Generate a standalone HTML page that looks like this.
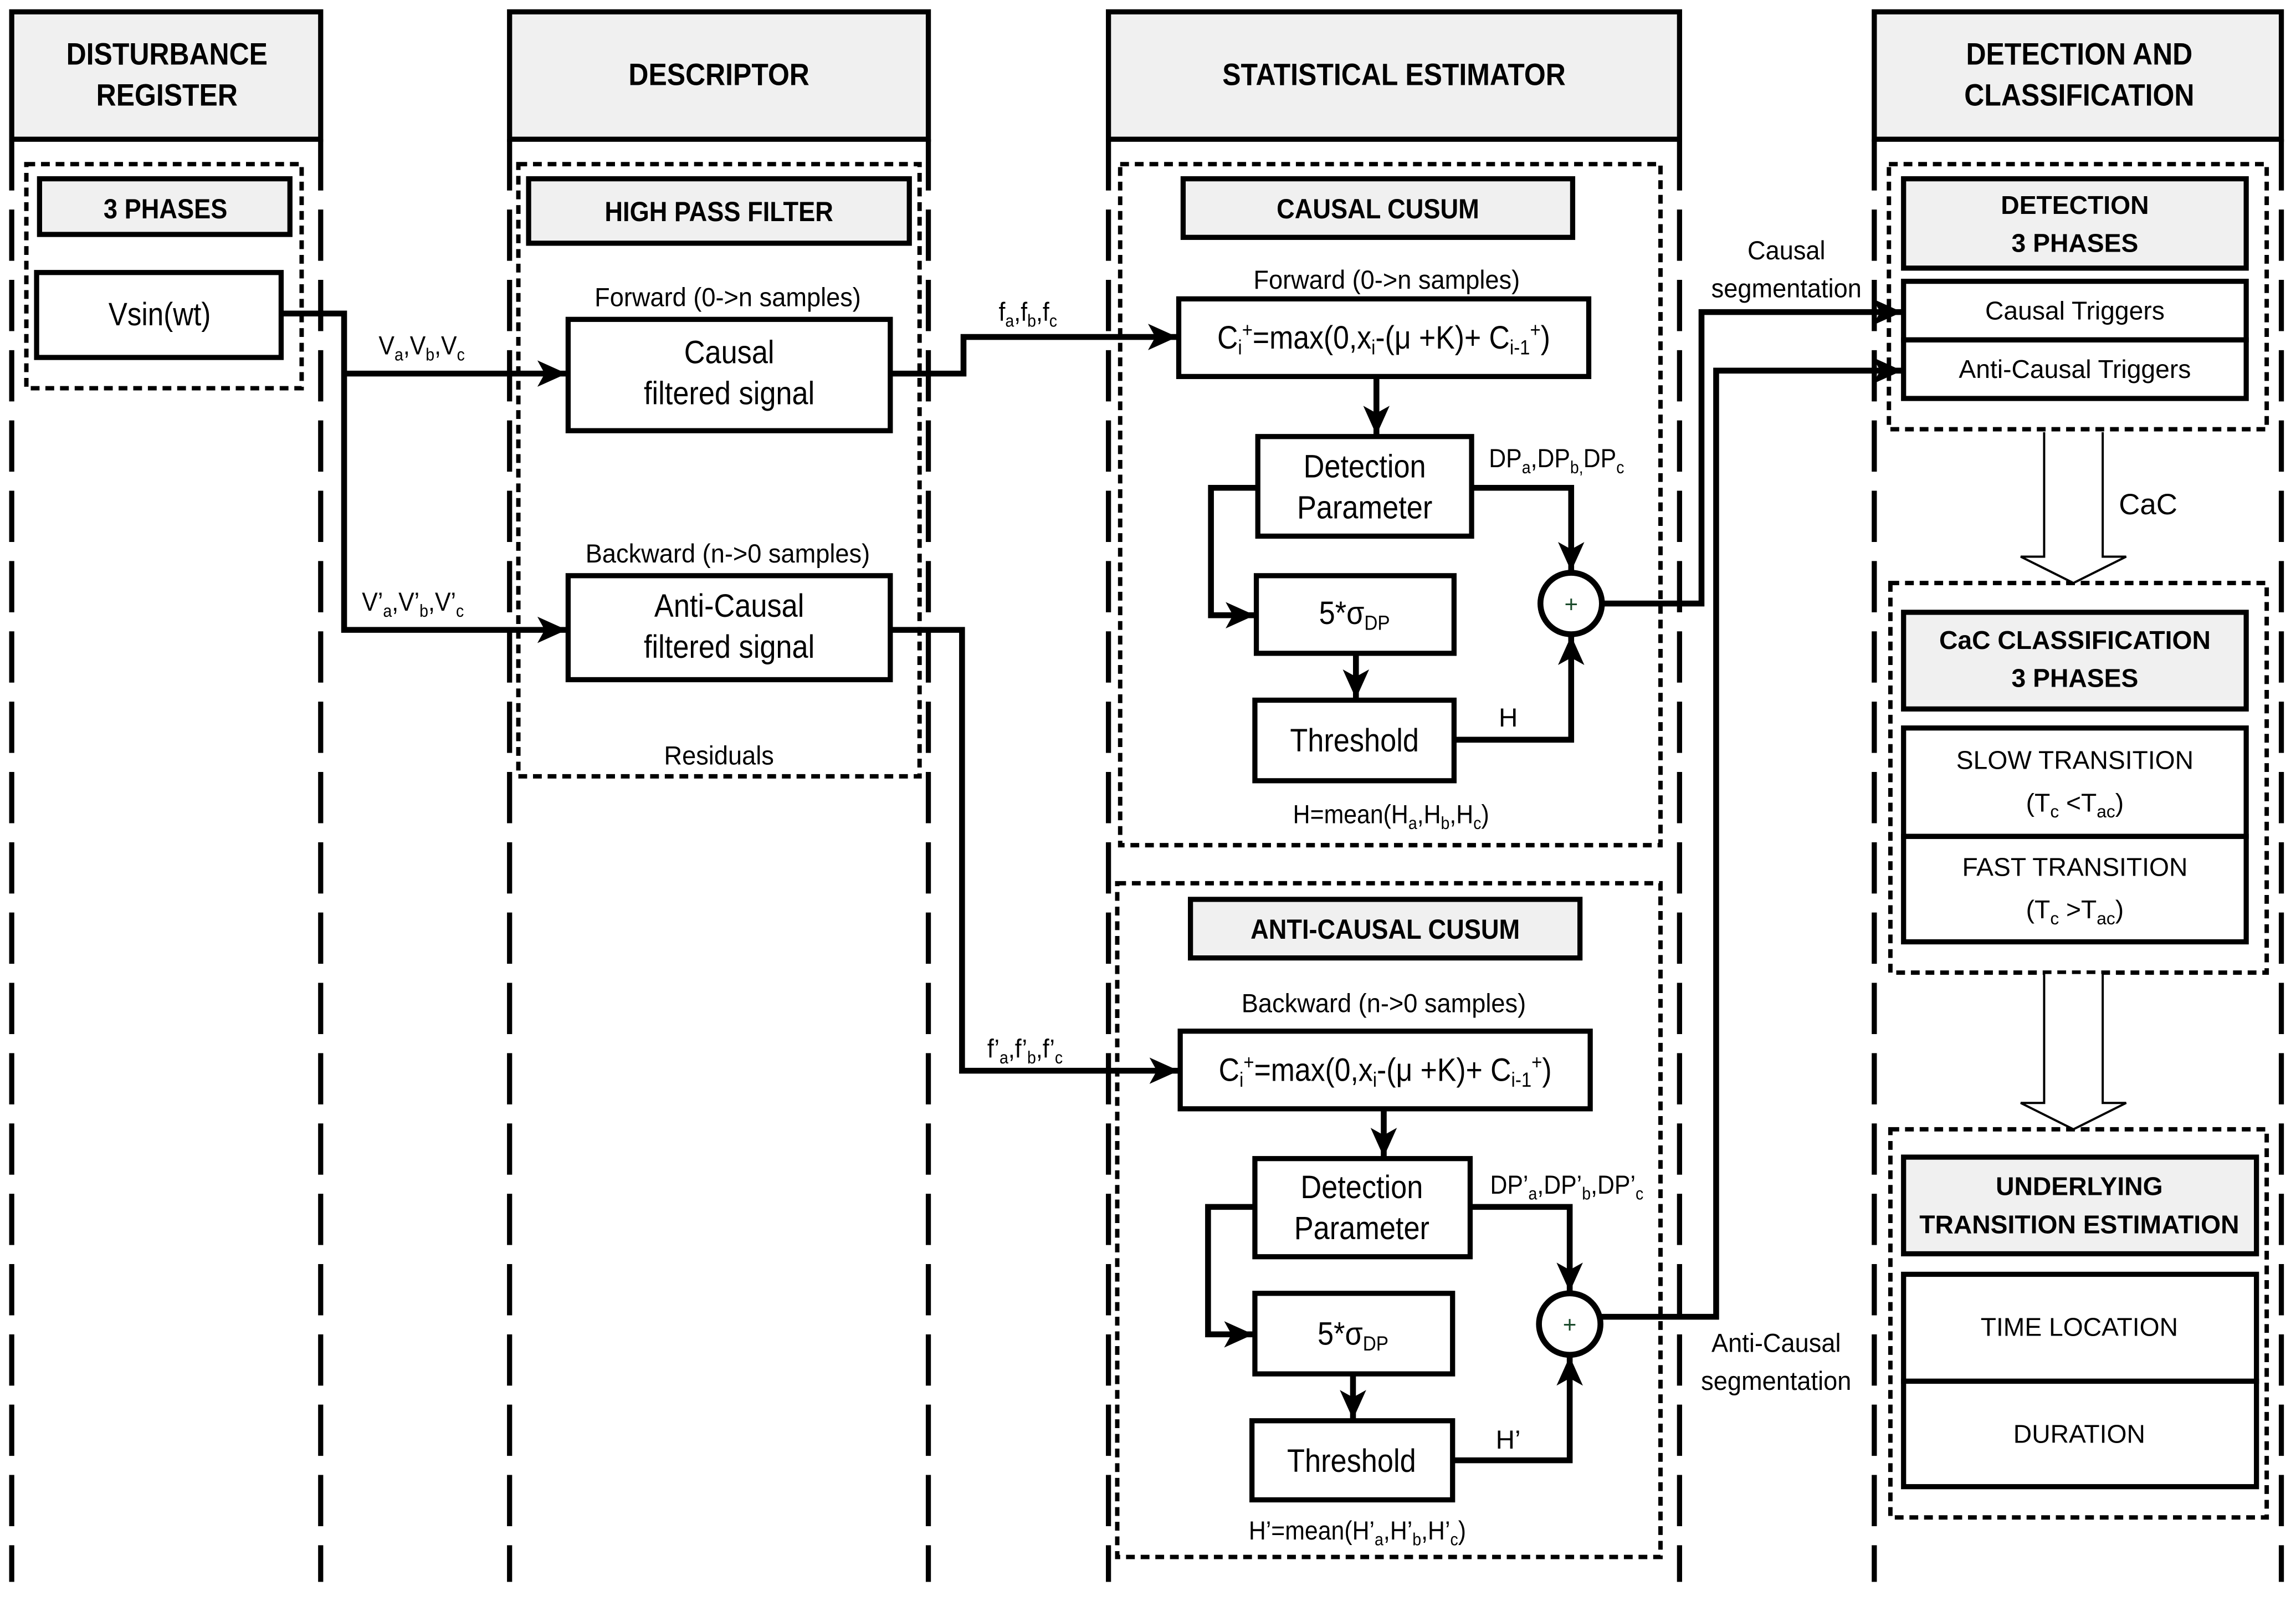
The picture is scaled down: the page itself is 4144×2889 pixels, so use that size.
<!DOCTYPE html>
<html><head><meta charset="utf-8"><style>
html,body{margin:0;padding:0;background:#fff;}
svg{display:block;}
text{font-family:"Liberation Sans Narrow","Liberation Sans",sans-serif;fill:#000;}
.w text,text.w{font-family:"Liberation Sans",sans-serif;}
.b{font-weight:bold;}
</style></head><body>
<svg width="4144" height="2889" viewBox="0 0 1568 1093" xmlns="http://www.w3.org/2000/svg">
<defs>
<marker id="a" markerUnits="userSpaceOnUse" markerWidth="24" markerHeight="20" refX="20" refY="9" orient="auto">
<path d="M0,0 L20,9 L0,18 L5,9 z" fill="#000"/>
</marker>
</defs>
<g fill="none" stroke="#000" stroke-width="3.5">
<g fill="#f0f0f0">
<path d="M8,95 V8 H219 V95 Z"/>
<path d="M348,95 V8 H634 V95 Z"/>
<path d="M757,95 V8 H1147 V95 Z"/>
<path d="M1280,95 V8 H1558 V95 Z"/>
</g>
<g stroke-dasharray="35 13">
<path d="M8,95 V1080 M219,95 V1080 M348,95 V1080 M634,95 V1080 M757,95 V1080 M1147,95 V1080 M1280,95 V1080 M1558,95 V1080"/>
</g>
<g stroke-dasharray="6 4" stroke-width="3">
<rect x="18" y="112" width="188" height="153"/>
<rect x="354" y="112" width="274" height="418"/>
<rect x="765" y="112" width="369" height="465"/>
<rect x="763" y="603" width="371" height="460"/>
<rect x="1290" y="112" width="258" height="181"/>
<rect x="1291" y="398" width="257" height="266"/>
<rect x="1291" y="771" width="257" height="265"/>
</g>
<g fill="#f0f0f0">
<rect x="27" y="122" width="171" height="38"/>
<rect x="361" y="122" width="260" height="44"/>
<rect x="808" y="122" width="266" height="40"/>
<rect x="813" y="614" width="266" height="40"/>
<rect x="1300" y="122" width="234" height="61"/>
<rect x="1300" y="418" width="234" height="66"/>
<rect x="1300" y="790" width="241" height="66"/>
</g>
<rect x="25" y="186" width="167" height="58"/>
<rect x="388" y="218" width="220" height="76"/>
<rect x="388" y="393" width="220" height="71"/>
<rect x="805" y="204" width="280" height="53"/>
<rect x="859" y="298" width="146" height="68"/>
<rect x="858" y="393" width="135" height="53"/>
<rect x="857" y="478" width="136" height="55"/>
<rect x="806" y="704" width="280" height="53"/>
<rect x="857" y="791" width="147" height="67"/>
<rect x="857" y="883" width="135" height="55"/>
<rect x="855" y="970" width="137" height="54"/>
<rect x="1300" y="192" width="234" height="40"/>
<rect x="1300" y="232" width="234" height="40"/>
<rect x="1300" y="497" width="234" height="74"/>
<rect x="1300" y="571" width="234" height="72"/>
<rect x="1300" y="870" width="241" height="73"/>
<rect x="1300" y="943" width="241" height="72"/>
<circle cx="1073" cy="412" r="21" stroke-width="4"/>
<circle cx="1072" cy="904" r="21" stroke-width="4"/>
<g stroke-width="4" stroke-linejoin="miter">
<path d="M192,214 H235 V430 H387" marker-end="url(#a)"/>
<path d="M235,255 H387" marker-end="url(#a)"/>
<path d="M608,255 H658 V230 H804" marker-end="url(#a)"/>
<path d="M608,430 H657 V731 H805" marker-end="url(#a)"/>
<path d="M940,257 V297" marker-end="url(#a)"/>
<path d="M859,333 H827 V420 H857" marker-end="url(#a)"/>
<path d="M926,446 V477" marker-end="url(#a)"/>
<path d="M1005,333 H1073 V390" marker-end="url(#a)"/>
<path d="M993,505 H1073 V434" marker-end="url(#a)"/>
<path d="M1094,412 H1162 V213 H1299" marker-end="url(#a)"/>
<path d="M945,757 V790" marker-end="url(#a)"/>
<path d="M857,824 H825 V911 H856" marker-end="url(#a)"/>
<path d="M924,938 V969" marker-end="url(#a)"/>
<path d="M1004,824 H1072 V882" marker-end="url(#a)"/>
<path d="M992,997 H1072 V926" marker-end="url(#a)"/>
<path d="M1093,899 H1172 V253 H1299" marker-end="url(#a)"/>
</g>
<path stroke-width="1.5" fill="#fff" d="M1396,295 V380 H1380 L1416,398 L1452,380 H1436 V295"/>
<path stroke-width="1.5" fill="#fff" d="M1396,665 V753 H1380 L1416,771 L1452,753 H1436 V665"/>
</g>
<text x="1073" y="418" font-size="16" text-anchor="middle" style="fill:#1a4a2a">+</text>
<text x="1072" y="910" font-size="16" text-anchor="middle" style="fill:#1a4a2a">+</text>
<g class="b" font-size="21" text-anchor="middle">
<text x="114" y="44" transform="matrix(.9 0 0 1 11.4 0)">DISTURBANCE</text><text x="114" y="72" transform="matrix(.9 0 0 1 11.4 0)">REGISTER</text>
<text x="491" y="58" transform="matrix(.9 0 0 1 49.1 0)">DESCRIPTOR</text>
<text x="952" y="58" transform="matrix(.9 0 0 1 95.2 0)">STATISTICAL ESTIMATOR</text>
<text x="1420" y="44" transform="matrix(.9 0 0 1 142 0)">DETECTION AND</text><text x="1420" y="72" transform="matrix(.9 0 0 1 142 0)">CLASSIFICATION</text>
<text x="113" y="149" font-size="19" transform="matrix(.9 0 0 1 11.3 0)">3 PHASES</text>
<text x="491" y="151" font-size="19" transform="matrix(.9 0 0 1 49.1 0)">HIGH PASS FILTER</text>
<text x="941" y="149" font-size="19" transform="matrix(.9 0 0 1 94.1 0)">CAUSAL CUSUM</text>
<text x="946" y="641" font-size="19" transform="matrix(.9 0 0 1 94.6 0)">ANTI-CAUSAL CUSUM</text>
</g>
<g class="w b" font-size="17.5" text-anchor="middle">
<text x="1417" y="146">DETECTION</text><text x="1417" y="172">3 PHASES</text>
<text x="1417" y="443">CaC CLASSIFICATION</text><text x="1417" y="469">3 PHASES</text>
<text x="1420" y="816">UNDERLYING</text><text x="1420" y="842">TRANSITION ESTIMATION</text>
</g>
<g class="w" font-size="17.5" text-anchor="middle">
<text x="1417" y="218">Causal Triggers</text>
<text x="1417" y="258">Anti-Causal Triggers</text>
<text x="1417" y="525">SLOW TRANSITION</text>
<text x="1417" y="554">(T<tspan font-size="12" dy="4">c</tspan><tspan dy="-4"> &lt;T</tspan><tspan font-size="12" dy="4">ac</tspan><tspan dy="-4">)</tspan></text>
<text x="1417" y="598">FAST TRANSITION</text>
<text x="1417" y="627">(T<tspan font-size="12" dy="4">c</tspan><tspan dy="-4"> &gt;T</tspan><tspan font-size="12" dy="4">ac</tspan><tspan dy="-4">)</tspan></text>
<text x="1420" y="912">TIME LOCATION</text>
<text x="1420" y="985">DURATION</text>
<text x="1467" y="351" font-size="20">CaC</text>
</g>
<g font-size="22" text-anchor="middle">
<text x="109" y="222" transform="matrix(.88 0 0 1 13.08 0)">Vsin(wt)</text>
<text x="498" y="248" transform="matrix(.9 0 0 1 49.8 0)">Causal</text><text x="498" y="276" transform="matrix(.9 0 0 1 49.8 0)">filtered signal</text>
<text x="498" y="421" transform="matrix(.9 0 0 1 49.8 0)">Anti-Causal</text><text x="498" y="449" transform="matrix(.9 0 0 1 49.8 0)">filtered signal</text>
<text x="932" y="326" transform="matrix(.9 0 0 1 93.2 0)">Detection</text><text x="932" y="354" transform="matrix(.9 0 0 1 93.2 0)">Parameter</text>
<text x="930" y="818" transform="matrix(.9 0 0 1 93 0)">Detection</text><text x="930" y="846" transform="matrix(.9 0 0 1 93 0)">Parameter</text>
<text x="925" y="426" transform="matrix(.9 0 0 1 92.5 0)">5*σ<tspan font-size="14" dy="4">DP</tspan></text>
<text x="924" y="918" transform="matrix(.9 0 0 1 92.4 0)">5*σ<tspan font-size="14" dy="4">DP</tspan></text>
<text x="925" y="513" transform="matrix(.9 0 0 1 92.5 0)">Threshold</text>
<text x="923" y="1005" transform="matrix(.9 0 0 1 92.3 0)">Threshold</text>
<text x="945" y="238" transform="matrix(.89 0 0 1 103.95 0)">C<tspan font-size="14" dy="4">i</tspan><tspan font-size="14" dy="-12">+</tspan><tspan dy="8">=max(0,x</tspan><tspan font-size="14" dy="4">i</tspan><tspan dy="-4">-(μ +K)+ C</tspan><tspan font-size="14" dy="4">i-1</tspan><tspan font-size="14" dy="-12">+</tspan><tspan dy="8">)</tspan></text>
<text x="946" y="738" transform="matrix(.89 0 0 1 104.06 0)">C<tspan font-size="14" dy="4">i</tspan><tspan font-size="14" dy="-12">+</tspan><tspan dy="8">=max(0,x</tspan><tspan font-size="14" dy="4">i</tspan><tspan dy="-4">-(μ +K)+ C</tspan><tspan font-size="14" dy="4">i-1</tspan><tspan font-size="14" dy="-12">+</tspan><tspan dy="8">)</tspan></text>
</g>
<g font-size="18" text-anchor="middle">
<text x="497" y="209" transform="matrix(.95 0 0 1 24.85 0)">Forward (0-&gt;n samples)</text>
<text x="497" y="384" transform="matrix(.95 0 0 1 24.85 0)">Backward (n-&gt;0 samples)</text>
<text x="491" y="522" transform="matrix(.95 0 0 1 24.55 0)">Residuals</text>
<text x="947" y="197" transform="matrix(.95 0 0 1 47.35 0)">Forward (0-&gt;n samples)</text>
<text x="945" y="691" transform="matrix(.95 0 0 1 47.25 0)">Backward (n-&gt;0 samples)</text>
<text x="288" y="242" transform="matrix(.9 0 0 1 28.8 0)">V<tspan font-size="12" dy="4">a</tspan><tspan dy="-4">,V</tspan><tspan font-size="12" dy="4">b</tspan><tspan dy="-4">,V</tspan><tspan font-size="12" dy="4">c</tspan></text>
<text x="282" y="417" transform="matrix(.9 0 0 1 28.2 0)">V’<tspan font-size="12" dy="4">a</tspan><tspan dy="-4">,V’</tspan><tspan font-size="12" dy="4">b</tspan><tspan dy="-4">,V’</tspan><tspan font-size="12" dy="4">c</tspan></text>
<text x="702" y="219" transform="matrix(.9 0 0 1 70.2 0)">f<tspan font-size="12" dy="4">a</tspan><tspan dy="-4">,f</tspan><tspan font-size="12" dy="4">b</tspan><tspan dy="-4">,f</tspan><tspan font-size="12" dy="4">c</tspan></text>
<text x="700" y="722" transform="matrix(.9 0 0 1 70 0)">f’<tspan font-size="12" dy="4">a</tspan><tspan dy="-4">,f’</tspan><tspan font-size="12" dy="4">b</tspan><tspan dy="-4">,f’</tspan><tspan font-size="12" dy="4">c</tspan></text>
<text x="1063" y="319" transform="matrix(.9 0 0 1 106.3 0)">DP<tspan font-size="12" dy="4">a</tspan><tspan dy="-4">,DP</tspan><tspan font-size="12" dy="4">b,</tspan><tspan dy="-4">DP</tspan><tspan font-size="12" dy="4">c</tspan></text>
<text x="1070" y="815" transform="matrix(.9 0 0 1 107 0)">DP’<tspan font-size="12" dy="4">a</tspan><tspan dy="-4">,DP’</tspan><tspan font-size="12" dy="4">b</tspan><tspan dy="-4">,DP’</tspan><tspan font-size="12" dy="4">c</tspan></text>
<text x="1030" y="496">H</text>
<text x="1030" y="989">H’</text>
<text x="950" y="562" transform="matrix(.9 0 0 1 95 0)">H=mean(H<tspan font-size="12" dy="4">a</tspan><tspan dy="-4">,H</tspan><tspan font-size="12" dy="4">b</tspan><tspan dy="-4">,H</tspan><tspan font-size="12" dy="4">c</tspan><tspan dy="-4">)</tspan></text>
<text x="927" y="1051" transform="matrix(.9 0 0 1 92.7 0)">H’=mean(H’<tspan font-size="12" dy="4">a</tspan><tspan dy="-4">,H’</tspan><tspan font-size="12" dy="4">b</tspan><tspan dy="-4">,H’</tspan><tspan font-size="12" dy="4">c</tspan><tspan dy="-4">)</tspan></text>
<text x="1220" y="177" transform="matrix(.95 0 0 1 61 0)">Causal</text><text x="1220" y="203" transform="matrix(.95 0 0 1 61 0)">segmentation</text>
<text x="1213" y="923" transform="matrix(.95 0 0 1 60.65 0)">Anti-Causal</text><text x="1213" y="949" transform="matrix(.95 0 0 1 60.65 0)">segmentation</text>
</g>
</svg>
</body></html>
